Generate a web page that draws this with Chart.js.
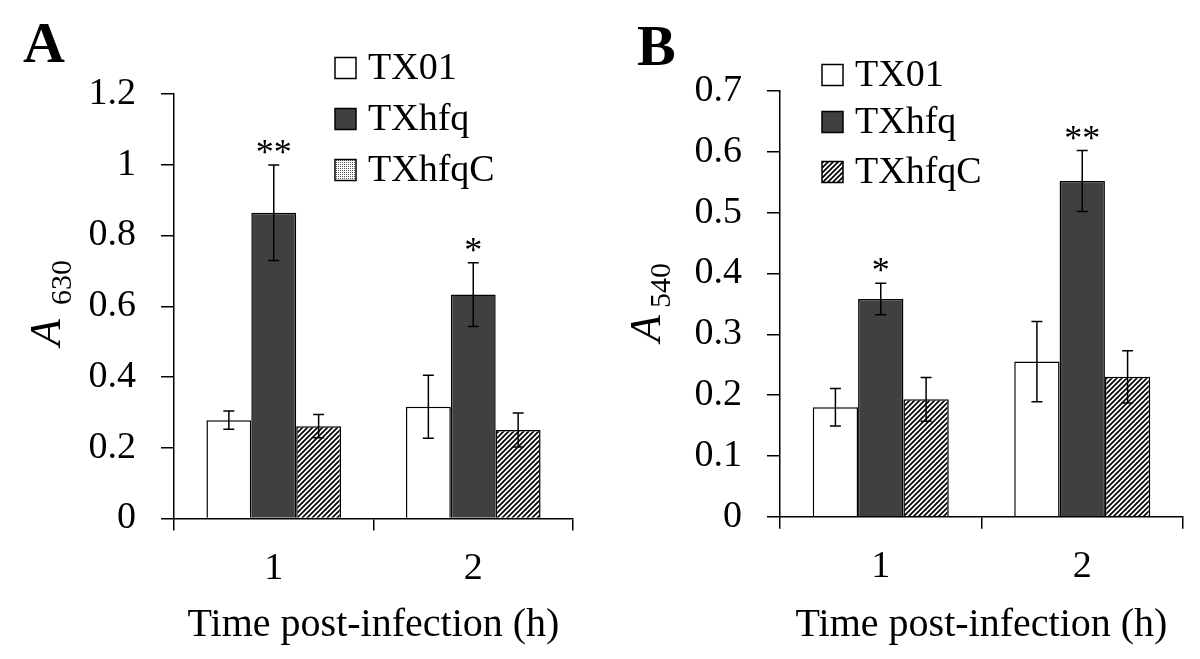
<!DOCTYPE html>
<html><head><meta charset="utf-8">
<script src="https://cdn.jsdelivr.net/npm/chart.js@4/dist/chart.umd.min.js"></script>
<style>
html,body{margin:0;padding:0;background:#fff;}
#wrap{position:relative;width:1200px;height:659px;background:#fff;}
.pane{position:absolute;top:0;width:600px;height:659px;}
canvas{display:block;}
</style></head><body>
<div id="wrap">
<div class="pane" style="left:0"><canvas id="cA" width="600" height="659"></canvas></div>
<div class="pane" style="left:600px"><canvas id="cB" width="600" height="659"></canvas></div>
</div>
<script>
// ---- data ----
const categories = ['1', '2'];
const seriesNames = ['TX01', 'TXhfq', 'TXhfqC'];
const xTitle = 'Time post-infection (h)';

// Panel A (A630)
const a630_TX01   = [0.278, 0.316];
const a630_TXhfq  = [0.864, 0.633];
const a630_TXhfqC = [0.261, 0.250];
const a630_err_TX01   = [0.026, 0.089];
const a630_err_TXhfq  = [0.135, 0.090];
const a630_err_TXhfqC = [0.033, 0.048];
const a630_sig_TXhfq  = ['**', '*'];
const a630_ticks = [0, 0.2, 0.4, 0.6, 0.8, 1, 1.2];

// Panel B (A540)
const a540_TX01   = [0.180, 0.255];
const a540_TXhfq  = [0.358, 0.552];
const a540_TXhfqC = [0.193, 0.230];
const a540_err_TX01   = [0.031, 0.066];
const a540_err_TXhfq  = [0.026, 0.050];
const a540_err_TXhfqC = [0.036, 0.043];
const a540_sig_TXhfq  = ['*', '**'];
const a540_ticks = [0, 0.1, 0.2, 0.3, 0.4, 0.5, 0.6, 0.7];

// ---- styling ----
const FONT = "'Liberation Serif', 'Times New Roman', serif";
Chart.defaults.font.family = FONT;
Chart.defaults.color = '#000';

function hatchPattern() {
  const s = 5;
  const c = document.createElement('canvas'); c.width = s; c.height = s;
  const x = c.getContext('2d');
  x.fillStyle = '#fff'; x.fillRect(0, 0, s, s);
  x.strokeStyle = '#000'; x.lineWidth = 1.7;
  x.beginPath();
  x.moveTo(-1, s + 1); x.lineTo(s + 1, -1);
  x.moveTo(-1, 1); x.lineTo(1, -1);
  x.moveTo(s - 1, s + 1); x.lineTo(s + 1, s - 1);
  x.stroke();
  return x.createPattern(c, 'repeat');
}
function dotPattern() {
  const c = document.createElement('canvas'); c.width = 2; c.height = 2;
  const x = c.getContext('2d');
  x.fillStyle = '#fff'; x.fillRect(0, 0, 2, 2);
  x.fillStyle = '#555'; x.fillRect(0, 0, 1, 1);
  return x.createPattern(c, 'repeat');
}
const HATCH = hatchPattern();
const DOTS = dotPattern();
const FILLS = ['#ffffff', '#404040', HATCH];

// ---- plugins ----
const errorBars = {
  id: 'errorBars',
  afterDatasetsDraw(chart) {
    const ctx = chart.ctx, ys = chart.scales.y;
    chart.data.datasets.forEach((ds, i) => {
      const meta = chart.getDatasetMeta(i);
      meta.data.forEach((bar, j) => {
        const v = ds.data[j], e = ds.errors[j];
        const x = bar.x;
        const yt = ys.getPixelForValue(v + e), yb = ys.getPixelForValue(v - e);
        ctx.save();
        ctx.strokeStyle = '#000'; ctx.lineWidth = 1.5;
        ctx.beginPath();
        ctx.moveTo(x, yt); ctx.lineTo(x, yb);
        ctx.moveTo(x - 5.5, yt); ctx.lineTo(x + 5.5, yt);
        ctx.moveTo(x - 5.5, yb); ctx.lineTo(x + 5.5, yb);
        ctx.stroke();
        ctx.restore();
        if (ds.sig && ds.sig[j]) {
          ctx.save();
          ctx.font = '36px ' + FONT;
          ctx.fillStyle = '#000';
          ctx.textAlign = 'center';
          ctx.textBaseline = 'alphabetic';
          const m = ctx.measureText(ds.sig[j]);
          const cy = yt - 18;
          const base = cy + (m.actualBoundingBoxAscent - m.actualBoundingBoxDescent) / 2;
          ctx.fillText(ds.sig[j], x, base);
          ctx.restore();
        }
      });
    });
  }
};

const decorations = {
  id: 'decorations',
  afterDraw(chart, args, o) {
    const ctx = chart.ctx;
    ctx.save();
    ctx.fillStyle = '#000';
    // panel letter
    ctx.font = 'bold 58px ' + FONT;
    ctx.textAlign = 'left'; ctx.textBaseline = 'alphabetic';
    ctx.fillText(o.panel.text, o.panel.x, o.panel.y);
    // y title: italic A with subscript
    ctx.save();
    ctx.translate(o.ytitle.mx, o.ytitle.my);
    ctx.rotate(-Math.PI / 2);
    ctx.font = 'italic 44px ' + FONT;
    ctx.fillText(o.ytitle.main, 0, 0);
    ctx.restore();
    ctx.save();
    ctx.translate(o.ytitle.sx, o.ytitle.sy);
    ctx.rotate(-Math.PI / 2);
    ctx.font = '30px ' + FONT;
    ctx.fillText(o.ytitle.sub, 0, 0);
    ctx.restore();
    // legend
    const box = 21;
    ctx.font = '38px ' + FONT;
    ctx.textBaseline = 'middle';
    chart.data.datasets.forEach((ds, i) => {
      const cy = o.legend.rows[i];
      ctx.fillStyle = (o.legend.fills && o.legend.fills[i]) || ds.backgroundColor;
      ctx.fillRect(o.legend.boxX, cy - box / 2, box, box);
      ctx.strokeStyle = '#000'; ctx.lineWidth = 1.5;
      ctx.strokeRect(o.legend.boxX, cy - box / 2, box, box);
      ctx.fillStyle = '#000';
      ctx.fillText(ds.label, o.legend.textX, cy + 1);
    });
    ctx.restore();
  }
};

function makeChart(id, cfg) {
  const datasets = cfg.values.map((vals, i) => ({
    label: seriesNames[i],
    data: vals,
    errors: cfg.errors[i],
    sig: cfg.sig[i],
    backgroundColor: FILLS[i],
    borderColor: '#000',
    borderWidth: 1.5,
    categoryPercentage: 0.675,
    barPercentage: 1
  }));
  return new Chart(document.getElementById(id), {
    type: 'bar',
    data: { labels: categories, datasets },
    plugins: [errorBars, decorations],
    options: {
      responsive: false,
      animation: false,
      devicePixelRatio: 1,
      layout: { padding: { left: 0, right: 600 - cfg.area.right, top: cfg.area.top, bottom: 0 } },
      plugins: {
        legend: { display: false },
        tooltip: { enabled: false },
        decorations: cfg.deco
      },
      scales: {
        x: {
          afterFit(s) { s.height = 659 - cfg.area.bottom; },
          grid: { display: true, drawOnChartArea: false, drawTicks: true, tickLength: 12, color: '#000', lineWidth: 1.5, offset: true },
          border: { display: true, color: '#000', width: 1.5 },
          ticks: { font: { size: 38 }, color: '#000', padding: 16 },
          title: { display: true, text: xTitle, font: { size: 40 }, color: '#000', padding: { top: 0, bottom: 10 } }
        },
        y: {
          min: cfg.ticks[0],
          max: cfg.ticks[cfg.ticks.length - 1],
          afterFit(s) { s.width = cfg.area.left; },
          afterBuildTicks(s) { s.ticks = cfg.ticks.map(v => ({ value: v })); },
          grid: { display: true, drawOnChartArea: false, drawTicks: true, tickLength: 13, color: '#000', lineWidth: 1.5 },
          border: { display: true, color: '#000', width: 1.5 },
          ticks: { font: { size: 38 }, color: '#000', padding: 25, callback: (v) => String(v) }
        }
      }
    }
  });
}

makeChart('cA', {
  values: [a630_TX01, a630_TXhfq, a630_TXhfqC],
  errors: [a630_err_TX01, a630_err_TXhfq, a630_err_TXhfqC],
  sig: [null, a630_sig_TXhfq, null],
  ticks: a630_ticks,
  area: { left: 174, right: 573, top: 94, bottom: 518.5 },
  deco: {
    panel: { text: 'A', x: 23, y: 62 },
    ytitle: { main: 'A', sub: '630', mx: 60, my: 346, sx: 71, sy: 305 },
    legend: { boxX: 335, textX: 368, rows: [68, 119, 170], fills: [null, null, DOTS] }
  }
});

makeChart('cB', {
  values: [a540_TX01, a540_TXhfq, a540_TXhfqC],
  errors: [a540_err_TX01, a540_err_TXhfq, a540_err_TXhfqC],
  sig: [null, a540_sig_TXhfq, null],
  ticks: a540_ticks,
  area: { left: 180, right: 583, top: 91, bottom: 516.7 },
  deco: {
    panel: { text: 'B', x: 37, y: 65 },
    ytitle: { main: 'A', sub: '540', mx: 60, my: 342, sx: 70, sy: 308 },
    legend: { boxX: 222, textX: 255, rows: [75, 122, 172] }
  }
});
</script>
</body></html>
